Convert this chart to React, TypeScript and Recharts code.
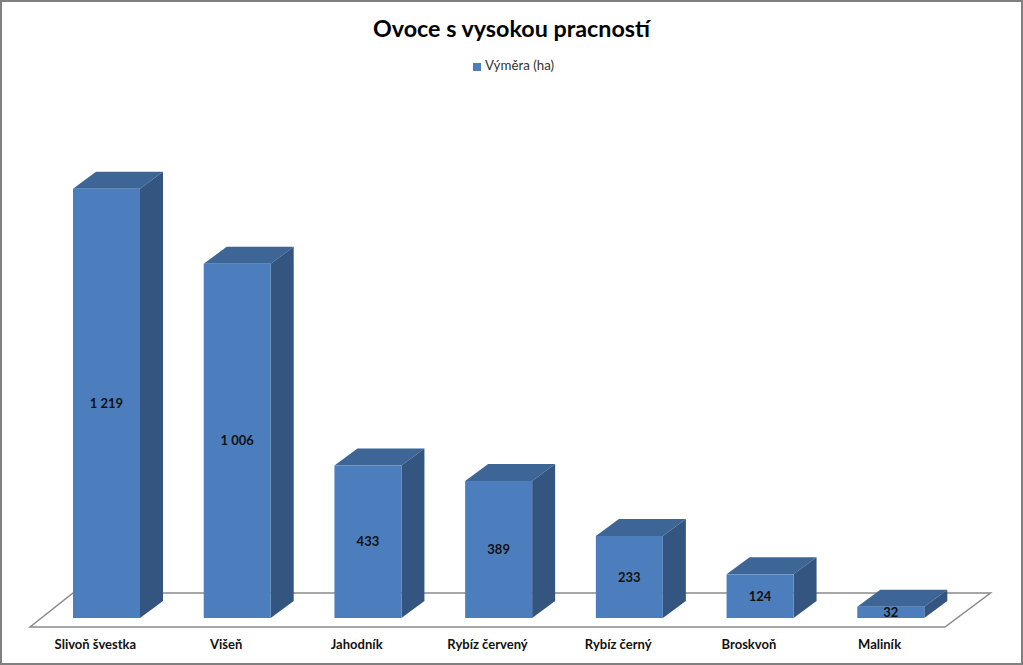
import React from "react";
import { BarChart, Bar, XAxis, YAxis, Legend, LabelList } from "recharts";

const categories = ["Slivoň švestka", "Višeň", "Jahodník", "Rybíz červený", "Rybíz černý", "Broskvoň", "Maliník"];
const areas = [1219, 1006, 433, 389, 233, 124, 32];
const seriesName = "Výměra (ha)";
const chartTitle = "Ovoce s vysokou pracností";
const data = categories.map((name, i) => ({ name, value: areas[i] }));

const FONT = "Lato, 'Open Sans', sans-serif";
const DX = 23;
const DY = -17;

const formatValue = (v: number) => String(v).replace(/\B(?=(\d{3})+$)/g, " ");

function Bar3D(props: any) {
  const { x, y, width, height } = props;
  return (
    <g>
      <path d={`M${x},${y} l${DX},${DY} h${width} l${-DX},${-DY} z`} fill="#3D6596" />
      <path d={`M${x + width},${y} l${DX},${DY} v${height} l${-DX},${-DY} z`} fill="#34557F" />
      <rect x={x} y={y} width={width} height={height} fill="#4C7EBD" />
    </g>
  );
}

function CategoryTick(props: any) {
  const { x, y, payload } = props;
  return (
    <text x={x - 11} y={y} dy={23} textAnchor="middle" fontFamily={FONT} fontSize={13} fontWeight={700} fill="#111">
      {payload.value}
    </text>
  );
}

export default function App() {
  return (
    <div style={{ position: "absolute", left: 0, top: 0, width: 1023, height: 665, background: "#fff", boxSizing: "border-box", overflow: "hidden" }}>
      <svg width={1023} height={665} style={{ position: "absolute", left: 0, top: 0 }}>
        <path d="M30,627 L73,593 H990.5 L945,627 Z" fill="none" stroke="#8a8a8a" strokeWidth={1.5} />
      </svg>
      <div style={{ position: "absolute", left: 0, top: 12, width: 1023, textAlign: "center", fontFamily: FONT, fontWeight: 700, fontSize: 23.3, lineHeight: "32px", color: "#000" }}>
        {chartTitle}
      </div>
      <div style={{ position: "absolute", left: 0, top: 0 }}>
        <BarChart width={1023} height={665} data={data} margin={{ top: 109, right: 67, bottom: 0, left: 41 }} barCategoryGap={0}>
          <XAxis dataKey="name" axisLine={false} tickLine={false} interval={0} height={47} tick={<CategoryTick />} />
          <YAxis hide domain={[0, 1400]} />
          <Legend
            verticalAlign="top"
            iconType="square"
            iconSize={8}
            wrapperStyle={{ top: 57, left: 0, width: 1037, fontFamily: FONT, fontSize: 13.3, color: "#333" }}
            formatter={(v: string) => <span style={{ color: "#333" }}>{v}</span>}
          />
          <Bar dataKey="value" name={seriesName} fill="#4C7EBD" barSize={67} shape={<Bar3D />} isAnimationActive={false}>
            <LabelList
              dataKey="value"
              position="center"
              formatter={(v: number) => formatValue(v)}
              style={{ fontFamily: FONT, fontSize: 13, fontWeight: 700, fill: "#111" }}
            />
          </Bar>
        </BarChart>
      </div>
      <div style={{ position: "absolute", inset: 0, border: "2px solid #808080", pointerEvents: "none" }} />
    </div>
  );
}
